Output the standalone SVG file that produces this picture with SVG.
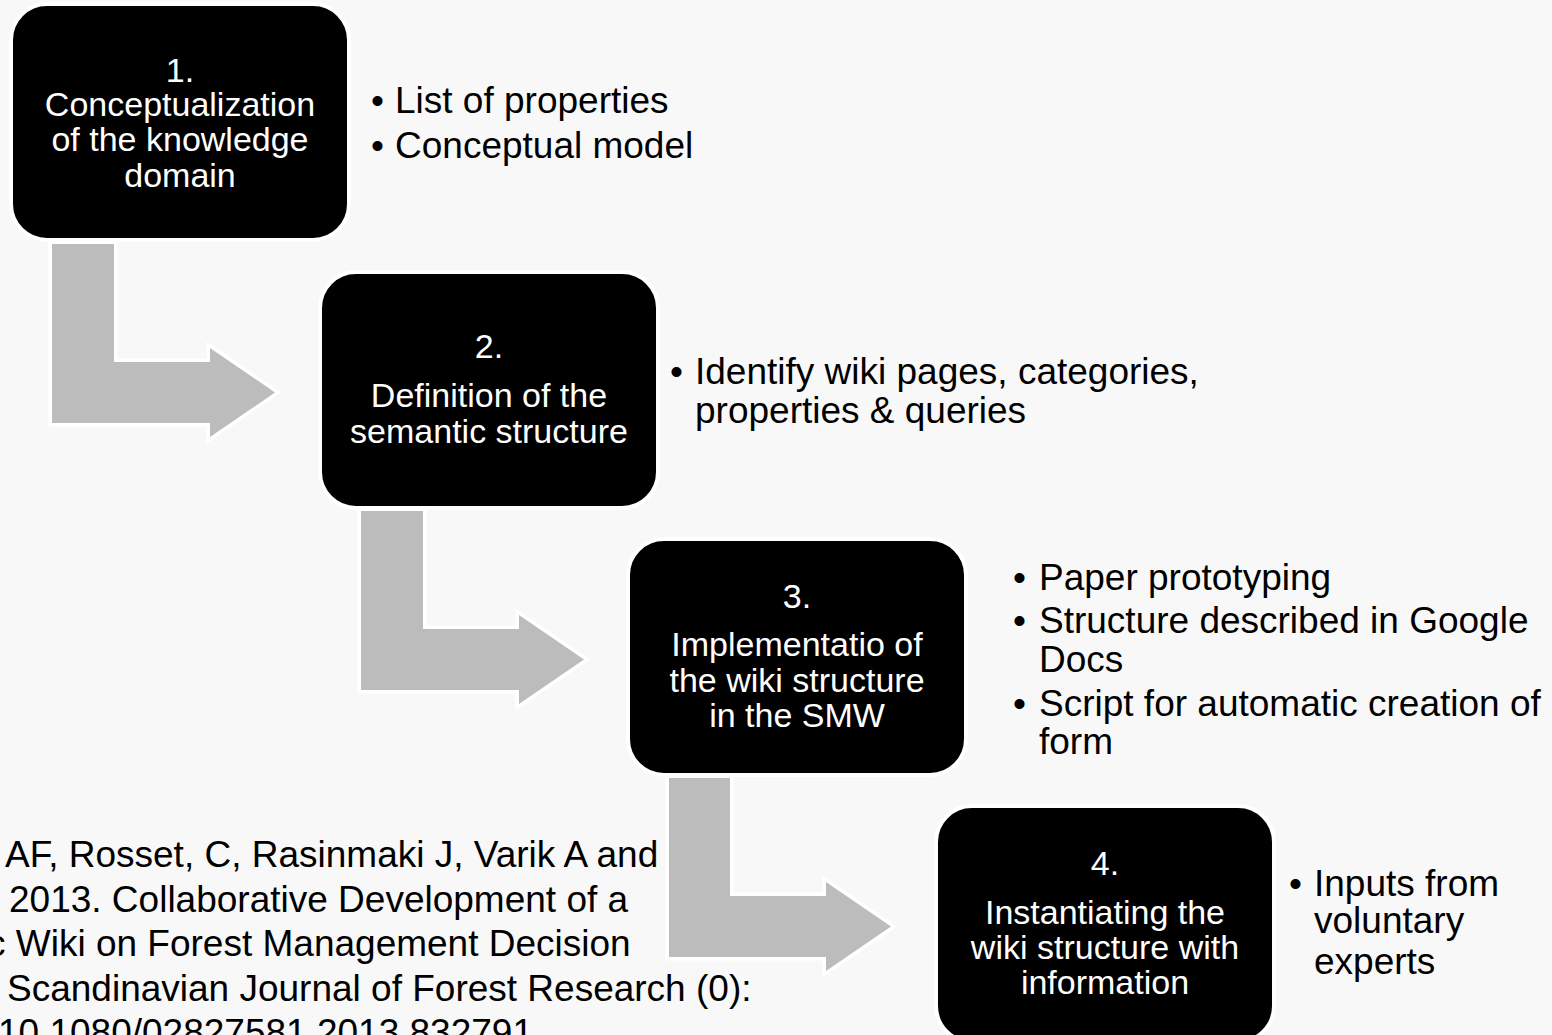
<svg xmlns="http://www.w3.org/2000/svg" width="1552" height="1035" viewBox="0 0 1552 1035">
  <style>
    .bg { fill: #f8f8f8; }
    .step { fill: #000000; stroke: #ffffff; stroke-width: 4; }
    .label { fill: #ffffff; font-family: "Liberation Sans", Arial, sans-serif; font-size: 34px; text-anchor: middle; }
    .bullet { fill: #000000; font-family: "Liberation Sans", Arial, sans-serif; font-size: 37px; }
    .cite { fill: #000000; font-family: "Liberation Sans", Arial, sans-serif; font-size: 37px; }
    .bend { fill: #bcbcbc; stroke: #ffffff; stroke-width: 7; stroke-linejoin: miter; paint-order: stroke; }
  </style>

  <rect class="bg" x="0" y="0" width="1552" height="1035"/>

  <!-- bent arrows linking each step to the next -->
  <g id="connectors">
    <path class="bend" d="M52,244 L114,244 L114,362 L210,362 L210,348 L275,392.5 L210,437 L210,423 L52,423 Z"/>
    <path class="bend" d="M361,511 L423,511 L423,629 L519,629 L519,615 L584,659.5 L519,704 L519,690 L361,690 Z"/>
    <path class="bend" d="M669,778 L730,778 L730,896 L826,896 L826,882 L891,926.5 L826,971 L826,957 L669,957 Z"/>
  </g>

  <!-- step 1 -->
  <g id="step1">
    <rect class="step" x="11" y="4" width="338" height="236" rx="36"/>
    <text class="label" x="180" y="82">1.</text>
    <text class="label" x="180" y="116">Conceptualization</text>
    <text class="label" x="180" y="151">of the knowledge</text>
    <text class="label" x="180" y="187">domain</text>
  </g>
  <g id="step1-notes">
    <text class="bullet" x="371" y="113">•</text>
    <text class="bullet" x="395" y="113">List of properties</text>
    <text class="bullet" x="371" y="158">•</text>
    <text class="bullet" x="395" y="158">Conceptual model</text>
  </g>

  <!-- step 2 -->
  <g id="step2">
    <rect class="step" x="320" y="272" width="338" height="236" rx="36"/>
    <text class="label" x="489" y="358">2.</text>
    <text class="label" x="489" y="407">Definition of the</text>
    <text class="label" x="489" y="443">semantic structure</text>
  </g>
  <g id="step2-notes">
    <text class="bullet" x="670" y="384">•</text>
    <text class="bullet" x="695" y="384">Identify wiki pages, categories,</text>
    <text class="bullet" x="695" y="423">properties &amp; queries</text>
  </g>

  <!-- step 3 -->
  <g id="step3">
    <rect class="step" x="628" y="539" width="338" height="236" rx="36"/>
    <text class="label" x="797" y="608">3.</text>
    <text class="label" x="797" y="656">Implementatio of</text>
    <text class="label" x="797" y="692">the wiki structure</text>
    <text class="label" x="797" y="727">in the SMW</text>
  </g>
  <g id="step3-notes">
    <text class="bullet" x="1013" y="590">•</text>
    <text class="bullet" x="1039" y="590">Paper prototyping</text>
    <text class="bullet" x="1013" y="633">•</text>
    <text class="bullet" x="1039" y="633">Structure described in Google</text>
    <text class="bullet" x="1039" y="672">Docs</text>
    <text class="bullet" x="1013" y="716">•</text>
    <text class="bullet" x="1039" y="716">Script for automatic creation of</text>
    <text class="bullet" x="1039" y="754">form</text>
  </g>

  <!-- step 4 -->
  <g id="step4">
    <rect class="step" x="936" y="806" width="338" height="236" rx="36"/>
    <text class="label" x="1105" y="875">4.</text>
    <text class="label" x="1105" y="924">Instantiating the</text>
    <text class="label" x="1105" y="959">wiki structure with</text>
    <text class="label" x="1105" y="994">information</text>
  </g>
  <g id="step4-notes">
    <text class="bullet" x="1289" y="896">•</text>
    <text class="bullet" x="1314" y="896">Inputs from</text>
    <text class="bullet" x="1314" y="933">voluntary</text>
    <text class="bullet" x="1314" y="974">experts</text>
  </g>

  <!-- reference, clipped at the left edge -->
  <g id="citation">
    <text class="cite" x="5" y="867">AF, Rosset, C, Rasinmaki J, Varik A and</text>
    <text class="cite" x="9" y="912">2013. Collaborative Development of a</text>
    <text class="cite" x="-13" y="956">c Wiki on Forest Management Decision</text>
    <text class="cite" x="7" y="1001">Scandinavian Journal of Forest Research (0):</text>
    <text class="cite" x="-2" y="1045">10.1080/02827581.2013.832791</text>
  </g>
</svg>
